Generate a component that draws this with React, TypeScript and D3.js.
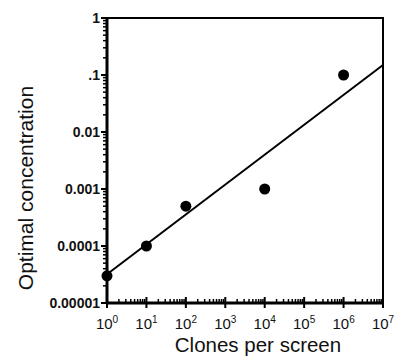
import React from "react";
import * as d3 from "d3";

const clones = [1, 10, 100, 10000, 1000000];
const concentration = [0.00003, 0.0001, 0.0005, 0.001, 0.1];
const fitX = [1, 10000000];
const fitY = [0.000032, 0.15];
const yTickValues = [1, 0.1, 0.01, 0.001, 0.0001, 0.00001];
const yTickLabels = ["1", ".1", "0.01", "0.001", "0.0001", "0.00001"];
const xExponents = [0, 1, 2, 3, 4, 5, 6, 7];

const W = 394, H = 357;
const L = 107, R = 383, T = 18, B = 303;

export default function App() {
  const x = d3.scaleLog().domain([1, 1e7]).range([L, R]);
  const y = d3.scaleLog().domain([0.00001, 1]).range([B, T]);
  const font = "'Liberation Sans', Arial, Helvetica, sans-serif";

  const xMinor: number[] = [];
  for (let e = 0; e < 7; e++) for (let m = 2; m <= 9; m++) xMinor.push(m * Math.pow(10, e));
  const yMinor: number[] = [];
  for (let e = -5; e < 0; e++) for (let m = 2; m <= 9; m++) yMinor.push(m * Math.pow(10, e));

  const line = d3.line<number>().x((_, i) => x(fitX[i])).y((d) => y(d));

  return (
    <svg width={W} height={H} style={{ position: "absolute", left: 0, top: 0, background: "#fff" }}>
      <rect x={L} y={T} width={R - L} height={B - T} fill="none" stroke="#000" strokeWidth={2} />
      <line x1={L} x2={L} y1={T} y2={B} stroke="#000" strokeWidth={3} />
      <line x1={L} x2={R} y1={B} y2={B} stroke="#000" strokeWidth={3} />
      {yTickValues.map((v, i) => (
        <g key={"yt" + i}>
          <line x1={L - 6} x2={L} y1={y(v)} y2={y(v)} stroke="#000" strokeWidth={2} />
          <text x={L - 7} y={y(v) + 5} textAnchor="end" fontFamily={font} fontSize={14} fontWeight="bold" fill="#111">
            {yTickLabels[i]}
          </text>
        </g>
      ))}
      {yMinor.map((v, i) => (
        <line key={"ym" + i} x1={L - 4} x2={L} y1={y(v)} y2={y(v)} stroke="#000" strokeWidth={1.5} />
      ))}
      {xExponents.map((e) => (
        <g key={"xt" + e}>
          <line x1={x(Math.pow(10, e))} x2={x(Math.pow(10, e))} y1={B - 6} y2={B + 5} stroke="#000" strokeWidth={2} />
          <text x={x(Math.pow(10, e))} y={329} textAnchor="middle" fontFamily={font} fontSize={15} fill="#111">
            10
            <tspan dy={-6} fontSize={10}>{e}</tspan>
          </text>
        </g>
      ))}
      {xMinor.map((v, i) => (
        <line key={"xm" + i} x1={x(v)} x2={x(v)} y1={B - 4} y2={B} stroke="#000" strokeWidth={1.5} />
      ))}
      <path d={line(fitY) || ""} fill="none" stroke="#000" strokeWidth={2} />
      {clones.map((c, i) => (
        <circle key={"p" + i} cx={x(c)} cy={y(concentration[i])} r={5.5} fill="#000" />
      ))}
      <text x={258} y={352} textAnchor="middle" fontFamily={font} fontSize={20.5} fill="#111">
        Clones per screen
      </text>
      <text
        transform={`translate(33,188) rotate(-90)`}
        textAnchor="middle"
        fontFamily={font}
        fontSize={21}
        fill="#111"
      >
        Optimal concentration
      </text>
    </svg>
  );
}
